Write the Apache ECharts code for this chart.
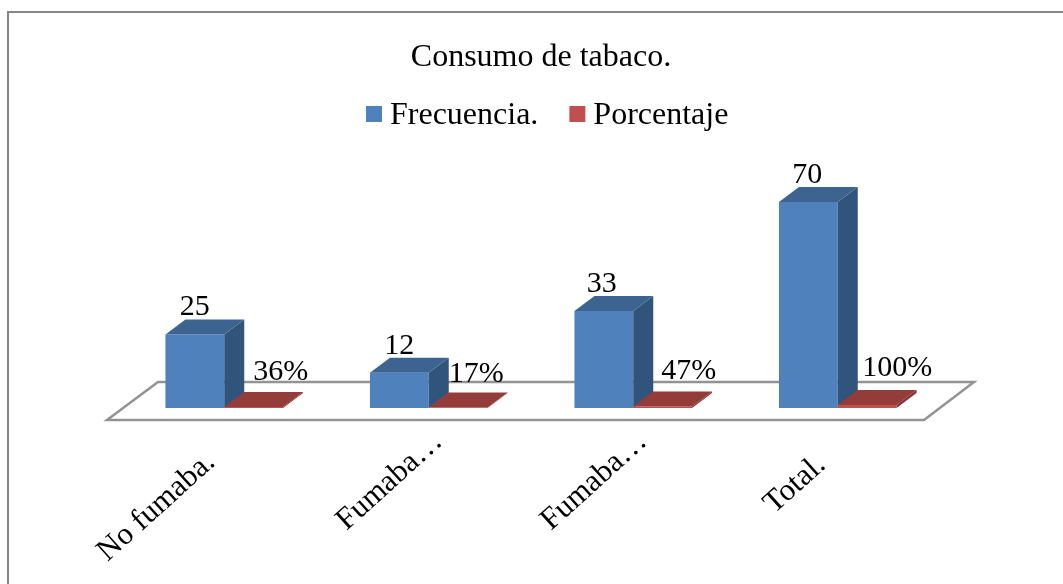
<!DOCTYPE html>
<html>
<head>
<meta charset="utf-8">
<style>
html, body { margin: 0; padding: 0; background: #fff; }
#chart { width: 1063px; height: 584px; }
</style>
<script src="https://cdn.jsdelivr.net/npm/echarts@6/dist/echarts.min.js"></script>
</head>
<body>
<div id="chart"></div>
<script>
var categories = ['No fumaba.', 'Fumaba…', 'Fumaba…', 'Total.'];
var frecuencia = [25, 12, 33, 70];
var porcentaje = [0.36, 0.17, 0.47, 1];
var porcentajeLabels = ['36%', '17%', '47%', '100%'];

var serif = '"Liberation Serif", "Times New Roman", serif';
var chart = echarts.init(document.getElementById('chart'));

var depthX = 20, depthY = -15; // profundidad 3D
// ajuste de etiquetas, colocadas a mano en el original
var freqNudge = [[0, 3], [0, 3], [-2, 3], [-1, 3]];
var pctNudge = [[27, -5], [18, -3], [26, -5], [30, -7]];
// empuje de las etiquetas del eje a lo largo del texto
var axisPadding = [18, -13, -13, 22];

// barra 3D: cara frontal, lateral y superior
function bar3d(colors, side, labels, nudge) {
    return function (params, api) {
        var idx = api.value(0);
        var base = api.coord([idx, 0]);
        var top = api.coord([idx, api.value(1)]);
        var w = api.size([1, 0])[0] * 0.2875;
        var x0 = side === 0 ? base[0] - w : base[0];
        var x1 = x0 + w;
        var n = nudge[params.dataIndex];
        var poly = function (pts, color) {
            return { type: 'polygon', shape: { points: pts }, style: { fill: color } };
        };
        return {
            type: 'group',
            children: [
                poly([[x0, base[1]], [x1, base[1]], [x1, top[1]], [x0, top[1]]], colors[0]),
                poly([[x1, base[1]], [x1 + depthX, base[1] + depthY], [x1 + depthX, top[1] + depthY], [x1, top[1]]], colors[1]),
                poly([[x0, top[1]], [x0 + depthX, top[1] + depthY], [x1 + depthX, top[1] + depthY], [x1, top[1]]], colors[2]),
                {
                    type: 'text',
                    style: {
                        text: labels[params.dataIndex],
                        x: x0 + w / 2 + n[0],
                        y: top[1] + depthY + n[1],
                        align: 'center',
                        verticalAlign: 'bottom',
                        fill: '#000',
                        font: '30px ' + serif
                    }
                }
            ]
        };
    };
}

function floorItem(params, api) {
    var cs = params.coordSys;
    var b = cs.y + cs.height;
    var pts = [[cs.x - 15, b + 12], [cs.x + cs.width - 16, b + 12], [cs.x + cs.width + 34, b - 26], [cs.x + 36, b - 26]];
    return {
        type: 'polygon',
        shape: { points: pts },
        style: { fill: '#fff', stroke: '#939393', lineWidth: 2.5 }
    };
}

function toRows(values) {
    return values.map(function (v, i) { return [i, v]; });
}

chart.setOption({
    backgroundColor: '#fff',
    animation: false,
    title: {
        text: 'Consumo de tabaco.',
        left: 541,
        top: 42,
        padding: 0,
        textAlign: 'center',
        textStyle: { color: '#000', fontFamily: serif, fontSize: 32, fontWeight: 'normal' }
    },
    legend: {
        left: 366,
        top: 100,
        padding: 0,
        itemWidth: 16,
        itemHeight: 16,
        itemGap: 31,
        icon: 'rect',
        data: ['Frecuencia.', 'Porcentaje'],
        formatter: '{a|{name}}',
        textStyle: {
            rich: { a: { color: '#000', fontFamily: serif, fontSize: 32, padding: [4, 0, 0, 3] } }
        }
    },
    grid: { left: 122, width: 818, top: 202, height: 206 },
    xAxis: {
        type: 'category',
        data: categories.map(function (c, i) {
            return { value: c, textStyle: { padding: [0, axisPadding[i], 0, 0] } };
        }),
        axisLine: { show: false },
        axisTick: { show: false },
        axisLabel: {
            interval: 0,
            rotate: 42,
            margin: 38,
            color: '#000',
            fontFamily: serif,
            fontSize: 31
        }
    },
    yAxis: { type: 'value', min: 0, max: 70, show: false, splitLine: { show: false } },
    graphic: [{
        type: 'rect',
        shape: { x: 8, y: 12, width: 1070, height: 590 },
        style: { fill: 'none', stroke: '#868686', lineWidth: 2 },
        z: 10
    }],
    series: [
        { name: 'floor', type: 'custom', renderItem: floorItem, data: [[0, 0]], silent: true, z: 1 },
        {
            name: 'Frecuencia.',
            type: 'custom',
            renderItem: bar3d(['#4f81bd', '#31547c', '#3d6390'], 0, frecuencia, freqNudge),
            data: toRows(frecuencia),
            itemStyle: { color: '#4f81bd' },
            z: 3
        },
        {
            name: 'Porcentaje',
            type: 'custom',
            renderItem: bar3d(['#c0504d', '#7f3533', '#933c3a'], 1, porcentajeLabels, pctNudge),
            data: toRows(porcentaje),
            itemStyle: { color: '#c0504d' },
            z: 4
        }
    ]
});
</script>
</body>
</html>
